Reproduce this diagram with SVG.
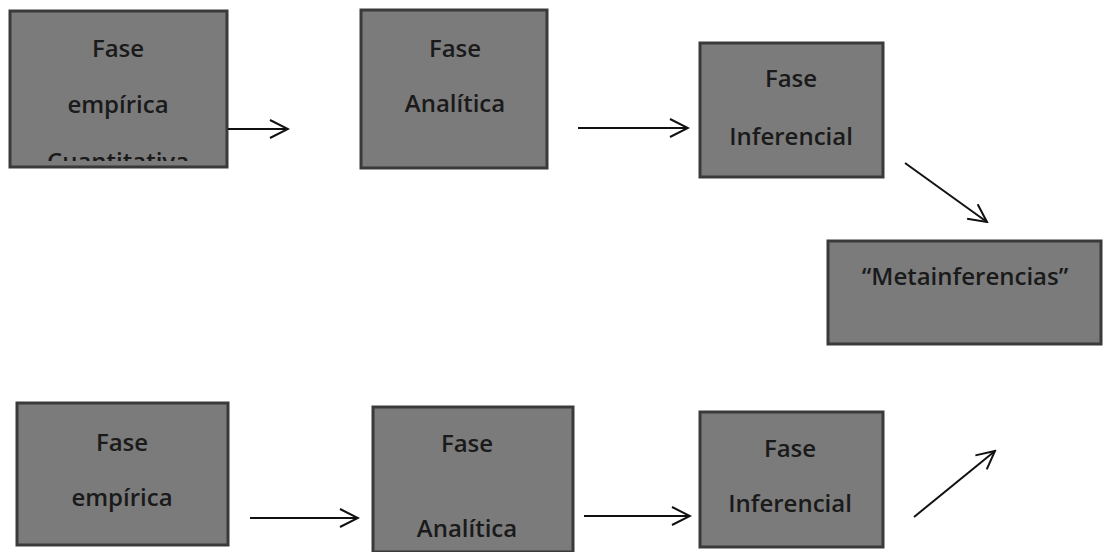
<svg xmlns="http://www.w3.org/2000/svg" width="1105" height="552" viewBox="0 0 1105 552">
<style>
.box{fill:#7b7b7b;stroke:#3a3a3a;stroke-width:3}
.t{font-family:"Open Sans","Liberation Sans",sans-serif;font-weight:600;font-size:24px;fill:#1a1a1a;text-anchor:middle}
.c{fill:none;stroke:#111;stroke-width:2}
</style>
<defs>
<marker id="ah" viewBox="0 0 22 22" refX="20" refY="11" markerWidth="22" markerHeight="22" markerUnits="userSpaceOnUse" orient="auto">
<path d="M2,2 L20,11 L2,20" fill="none" stroke="#111" stroke-width="2"/>
</marker>
<clipPath id="clip1"><rect x="10" y="11" width="217" height="150"/></clipPath>
</defs>
<rect width="1105" height="552" fill="#fff"/>
<g id="n1">
<rect class="box" x="10" y="11" width="217" height="156"/>
<text class="t" x="118" y="57">Fase</text>
<text class="t" x="118" y="113">empírica</text>
<text class="t" x="118" y="170" clip-path="url(#clip1)">Cuantitativa</text>
</g>
<g id="n2">
<rect class="box" x="361" y="10" width="186" height="158"/>
<text class="t" x="455" y="57">Fase</text>
<text class="t" x="455" y="112">Analítica</text>
</g>
<g id="n3">
<rect class="box" x="700" y="43" width="183" height="134"/>
<text class="t" x="791" y="87">Fase</text>
<text class="t" x="791" y="145">Inferencial</text>
</g>
<g id="n4">
<rect class="box" x="828" y="241" width="273" height="103"/>
<text class="t" x="965" y="285">“Metainferencias”</text>
</g>
<g id="n5">
<rect class="box" x="17" y="403" width="211" height="142"/>
<text class="t" x="122" y="451">Fase</text>
<text class="t" x="122" y="506">empírica</text>
</g>
<g id="n6">
<rect class="box" x="373" y="407" width="200" height="145"/>
<text class="t" x="467" y="452">Fase</text>
<text class="t" x="467" y="537">Analítica</text>
</g>
<g id="n7">
<rect class="box" x="700" y="412" width="183" height="135"/>
<text class="t" x="790" y="457">Fase</text>
<text class="t" x="790" y="512">Inferencial</text>
</g>
<g id="connectors">
<line class="c" x1="228" y1="129" x2="288" y2="129" marker-end="url(#ah)"/>
<line class="c" x1="578" y1="128" x2="688" y2="128" marker-end="url(#ah)"/>
<line class="c" x1="905" y1="163" x2="987" y2="222" marker-end="url(#ah)"/>
<line class="c" x1="250" y1="518" x2="358" y2="518" marker-end="url(#ah)"/>
<line class="c" x1="584" y1="516" x2="690" y2="516" marker-end="url(#ah)"/>
<line class="c" x1="914" y1="517" x2="995" y2="451" marker-end="url(#ah)"/>
</g>
</svg>
